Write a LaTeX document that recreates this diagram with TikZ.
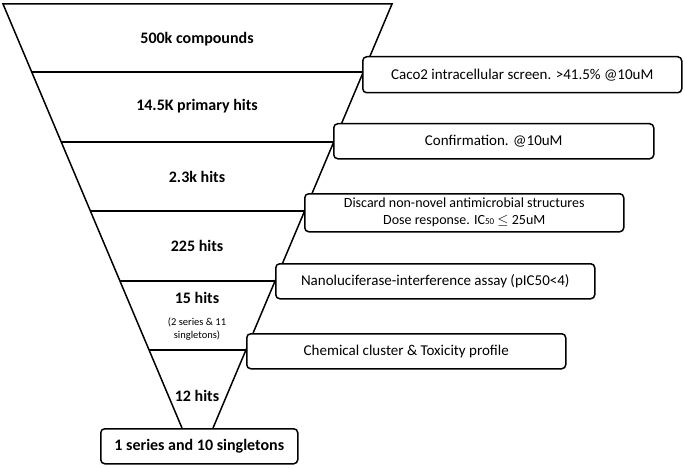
\documentclass[tikz,border=0pt]{standalone}
\usepackage{fontspec}
\setmainfont{Carlito}
\begin{document}
\begin{tikzpicture}[x=1pt,y=-1pt,line width=1.5pt,
  lab/.style={font=\fontsize{16}{18}\selectfont\bfseries},
  box/.style={draw,rounded corners=4pt,fill=white,font=\fontsize{15}{16}\selectfont,align=center,inner sep=0pt}]
\useasboundingbox (0,0) rectangle (685,468);
\coordinate (tl) at (3,4); \coordinate (tr) at (392,4);
\coordinate (bl) at (182,428); \coordinate (br) at (213,428);
\draw (bl) -- (tl) -- (tr) -- (br);
\foreach \y in {72,142,211,281,350}{
  \pgfmathsetmacro\d{0.4223*(\y-4)}
  \draw (3+\d,\y) -- (392-\d,\y);}
\node[box,minimum width=319pt,minimum height=36pt,anchor=north west] (b1) at (362,56) {Caco2 intracellular screen. >41.5\% @10uM};
\node[box,minimum width=320pt,minimum height=35pt,anchor=north west] (b2) at (333,123) {Confirmation. @10uM};
\node[box,minimum width=319pt,minimum height=38pt,anchor=north west,font=\fontsize{14}{17}\selectfont] (b3) at (304,193) {Discard non-novel antimicrobial structures\\Dose response. IC{\fontsize{9}{9}\selectfont 50} $\leq$ 25uM};
\node[box,minimum width=319pt,minimum height=35pt,anchor=north west] (b4) at (275,263) {Nanoluciferase-interference assay (pIC50<4)};
\node[box,minimum width=319pt,minimum height=35pt,anchor=north west] (b5) at (246,333) {Chemical cluster \& Toxicity profile};
\node[box,font=\fontsize{16}{18}\selectfont\bfseries,minimum width=197pt,minimum height=35pt,anchor=north west] (b6) at (100,428) {1 series and 10 singletons};
\node[lab] (l1) at (197,39) {500k compounds};
\node[lab] (l2) at (197,106) {14.5K primary hits};
\node[lab] (l3) at (197,177) {2.3k hits};
\node[lab] (l4) at (197,246) {225 hits};
\node[lab] (l5) at (197,298) {15 hits};
\node[font=\fontsize{10.5}{13}\selectfont,align=center] (l6) at (197,329) {(2 series \& 11\\singletons)};
\node[lab] (l7) at (197,396) {12 hits};
\end{tikzpicture}
\end{document}
